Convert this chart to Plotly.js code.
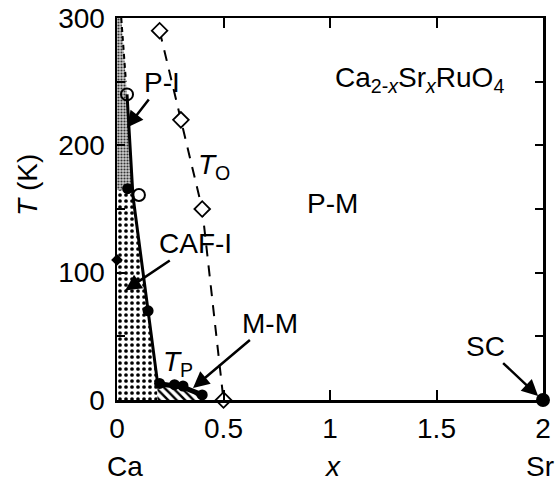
<!DOCTYPE html>
<html>
<head>
<meta charset="utf-8">
<script src="https://cdn.plot.ly/plotly-3.0.1.min.js"></script>
<style>html,body{margin:0;padding:0;background:#fff;}#chart{width:558px;height:481px;}</style>
</head>
<body>
<div id="chart"></div>
<script>
// Region boundaries (x, T in K)
const piRegionX = [0, 0, 0.02, 0.047, 0.075, 0.05];
const piRegionT = [165, 300, 300, 240, 160, 166];
const cafRegionX = [0, 0, 0.05, 0.075, 0.146, 0.19, 0.19];
const cafRegionT = [0, 165, 166, 160, 70, 14, 0];
const mmRegionX = [0.19, 0.19, 0.22, 0.27, 0.31, 0.38, 0.38];
const mmRegionT = [0, 13, 12, 11, 10, 5, 0];

// Metal–insulator boundary (solid)
const miX = [0.047, 0.075, 0.146, 0.19];
const miT = [240, 160, 70, 14];
// Upper dashed continuation near x = 0
const miDashX = [0.02, 0.042];
const miDashT = [300, 250];
// T_P line
const tpX = [0.19, 0.22, 0.27, 0.31, 0.4];
const tpT = [13, 12, 11, 10, 4];
// T_O (open diamonds, dashed)
const toX = [0.2, 0.3, 0.4, 0.5];
const toT = [290, 220, 150, 0];
// Open circles
const openCircX = [0.047, 0.103];
const openCircT = [240, 161];
// Filled circles
const fillCircX = [0.05, 0.146, 0.2, 0.27, 0.31, 0.4];
const fillCircT = [166, 70, 13, 12, 11, 4];
// Filled diamond
const fillDiaX = [0];
const fillDiaT = [110];
// Superconductor point
const scX = [2];
const scT = [0];

const xTickVals = [0, 0.5, 1, 1.5, 2];
const xTickText = ['0', '0.5', '1', '1.5', '2'];
const yTickVals = [0, 100, 200, 300];
const yTickText = ['0', '100', '200', '300'];

const F = 'Liberation Sans, Arial, Helvetica, sans-serif';
const FS = 28;

const traces = [
  {x: piRegionX, y: piRegionT, type: 'scatter', mode: 'lines', fill: 'toself',
   line: {width: 0}, fillcolor: '#c8c8c8',
   fillpattern: {shape: '.', fgcolor: '#333', bgcolor: '#cccccc', size: 3, solidity: 0.4},
   hoverinfo: 'skip'},
  {x: cafRegionX, y: cafRegionT, type: 'scatter', mode: 'lines', fill: 'toself',
   line: {width: 0}, fillcolor: '#ffffff',
   fillpattern: {shape: '.', fgcolor: '#000', bgcolor: '#fff', size: 6, solidity: 0.3},
   hoverinfo: 'skip'},
  {x: mmRegionX, y: mmRegionT, type: 'scatter', mode: 'lines', fill: 'toself',
   line: {width: 0}, fillcolor: '#ffffff',
   fillpattern: {shape: '\\', fgcolor: '#000', bgcolor: '#fff', size: 6, solidity: 0.4},
   hoverinfo: 'skip'},
  {x: miDashX, y: miDashT, type: 'scatter', mode: 'lines',
   line: {color: '#000', width: 2, dash: '5px,4px'}},
  {x: miX, y: miT, type: 'scatter', mode: 'lines',
   line: {color: '#000', width: 3}},
  {x: tpX, y: tpT, type: 'scatter', mode: 'lines',
   line: {color: '#000', width: 5}},
  {x: toX, y: toT, type: 'scatter', mode: 'lines+markers', cliponaxis: false,
   line: {color: '#000', width: 2, dash: '11px,9px'},
   marker: {symbol: 'diamond', size: 12, color: '#fff', line: {color: '#000', width: 1.8}}},
  {x: openCircX, y: openCircT, type: 'scatter', mode: 'markers',
   marker: {symbol: 'circle', size: 12, color: 'rgba(255,255,255,0)', line: {color: '#000', width: 2}}},
  {x: fillCircX, y: fillCircT, type: 'scatter', mode: 'markers', cliponaxis: false,
   marker: {symbol: 'circle', size: 11, color: '#000'}},
  {x: fillDiaX, y: fillDiaT, type: 'scatter', mode: 'markers', cliponaxis: false,
   marker: {symbol: 'diamond', size: 9, color: '#000'}},
  {x: scX, y: scT, type: 'scatter', mode: 'markers', cliponaxis: false,
   marker: {symbol: 'circle', size: 14, color: '#000'}}
];

// labelled arrow: head at data (x, y); text centred at (ax, ay) px from the head
function arrowLabel(x, y, ax, ay, text) {
  return {x: x, y: y, xref: 'x', yref: 'y', text: text, showarrow: true,
    ax: ax, ay: ay, arrowhead: 2, arrowsize: 1.3, arrowwidth: 2.5,
    arrowcolor: '#000', standoff: 0, startstandoff: 0,
    font: {family: F, size: FS, color: '#000'}};
}
function label(x, y, text, opts) {
  return Object.assign({x: x, y: y, xref: 'x', yref: 'y', text: text, showarrow: false,
    font: {family: F, size: FS, color: '#000'}, xanchor: 'center', yanchor: 'middle'}, opts || {});
}
function plabel(x, y, text, opts) {
  return Object.assign({x: x, y: y, xref: 'paper', yref: 'paper', text: text, showarrow: false,
    font: {family: F, size: FS, color: '#000'}, xanchor: 'center', yanchor: 'middle'}, opts || {});
}

const layout = {
  width: 558, height: 481,
  margin: {l: 117, r: 15, t: 18, b: 81},
  paper_bgcolor: '#fff', plot_bgcolor: '#fff',
  showlegend: false,
  font: {family: F, size: FS, color: '#000'},
  xaxis: {range: [0, 2], tickvals: xTickVals, ticktext: xTickText,
    ticks: 'inside', ticklen: 10, tickwidth: 2, tickcolor: '#000',
    showline: true, linecolor: '#000', linewidth: 2.5, mirror: 'ticks',
    showgrid: false, zeroline: false, ticklabelstandoff: 2,
    tickfont: {family: F, size: FS, color: '#000'}},
  yaxis: {range: [0, 300], tickvals: yTickVals, ticktext: yTickText,
    ticks: 'inside', ticklen: 8, tickwidth: 2, tickcolor: '#000',
    minor: {dtick: 50, ticks: 'inside', ticklen: 8, tickwidth: 2, tickcolor: '#000', showgrid: false},
    showline: true, linecolor: '#000', linewidth: 2.5, mirror: 'ticks',
    showgrid: false, zeroline: false, ticklabelstandoff: 4,
    tickfont: {family: F, size: FS, color: '#000'}},
  annotations: [
    arrowLabel(0.047, 214, 35, -45, 'P-I'),
    arrowLabel(0.038, 86, 70, -47, 'CAF-I'),
    arrowLabel(0.357, 9.4, 77, -65, 'M-M'),
    arrowLabel(1.977, 3.1, -53, -50, 'SC'),
    label(1.014, 154, 'P-M'),
    label(0.455, 183, '<i>T</i><sub>O</sub>'),
    label(0.286, 29, '<i>T</i><sub>P</sub>'),
    plabel(0.711, 0.838, 'Ca<sub>2-<i>x</i></sub>Sr<sub><i>x</i></sub>RuO<sub>4</sub>'),
    plabel(-0.209, 0.563, '<i>T</i> (K)', {textangle: -90}),
    plabel(0.505, -0.175, '<i>x</i>'),
    plabel(0.019, -0.173, 'Ca'),
    plabel(0.993, -0.173, 'Sr')
  ]
};

Plotly.newPlot('chart', traces, layout, {staticPlot: true, displayModeBar: false});
</script>
</body>
</html>
